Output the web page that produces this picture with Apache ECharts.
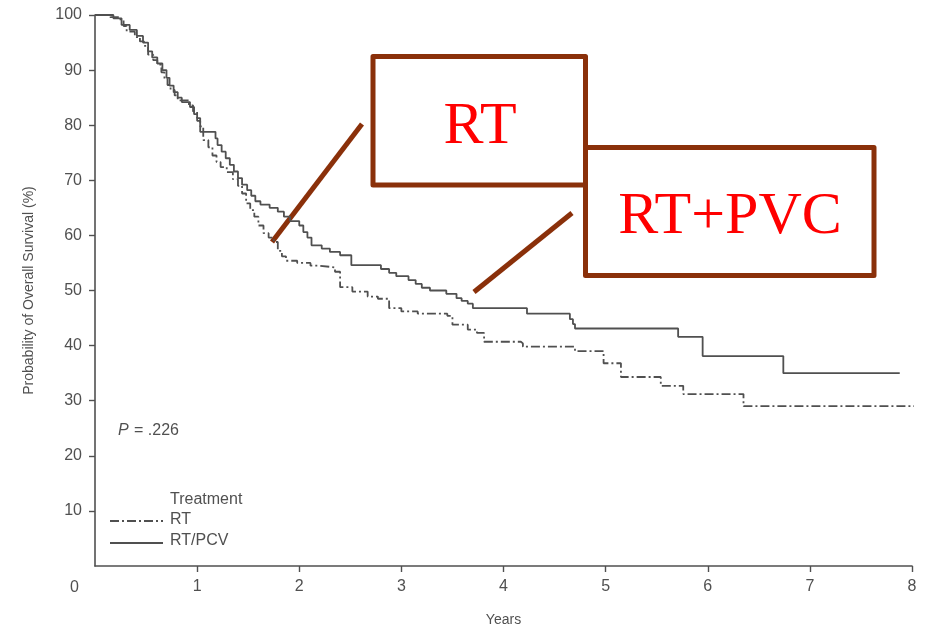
<!DOCTYPE html>
<html>
<head>
<meta charset="utf-8">
<title>Overall survival by treatment</title>
<script src="https://cdn.jsdelivr.net/npm/echarts@6/dist/echarts.min.js"></script>
<style>
  html, body { margin: 0; padding: 0; background: #ffffff; }
  #chart { width: 942px; height: 629px; }
</style>
</head>
<body>
<div id="chart"></div>
<script>
// Kaplan-Meier step data: time of each event (years) and survival level (%) from that time on.
const yearsRT = [0.00, 0.15, 0.24, 0.28, 0.31, 0.39, 0.44, 0.48, 0.52, 0.57,
  0.61, 0.65, 0.68, 0.71, 0.74, 0.78, 0.81, 0.92, 0.96, 1.00,
  1.03, 1.06, 1.11, 1.15, 1.19, 1.23, 1.29, 1.35, 1.40, 1.44,
  1.48, 1.52, 1.56, 1.60, 1.65, 1.70, 1.75, 1.79, 1.83, 1.87,
  1.98, 2.11, 2.20, 2.35, 2.40, 2.52, 2.67, 2.77, 2.88, 3.00,
  3.16, 3.45, 3.50, 3.65, 3.74, 3.81, 4.17, 4.19, 4.70, 4.98,
  5.15, 5.54, 5.76, 6.35, 8.03];
const survRT = [100, 99.6, 99.2, 98.0, 97.0, 96.0, 95.2, 94.4, 92.8, 91.8,
  91.0, 89.6, 88.4, 87.3, 86.4, 85.4, 84.5, 83.6, 82.5, 81.3,
  79.8, 77.3, 76.0, 74.5, 73.3, 72.4, 71.5, 70.2, 69.0, 67.6,
  65.8, 64.6, 63.4, 61.8, 60.4, 59.6, 58.8, 57.2, 56.2, 55.4,
  55.0, 54.5, 54.2, 53.4, 50.6, 49.8, 48.9, 48.5, 46.8, 46.2,
  45.8, 45.4, 43.8, 42.9, 42.3, 40.7, 40.4, 39.8, 39.0, 36.8,
  34.3, 32.7, 31.2, 29.0, 29.0];

const yearsPCV = [0.00, 0.18, 0.26, 0.34, 0.41, 0.47, 0.52, 0.56, 0.61, 0.66,
  0.70, 0.73, 0.77, 0.81, 0.85, 0.93, 0.97, 1.00, 1.03, 1.18,
  1.20, 1.24, 1.28, 1.32, 1.36, 1.40, 1.44, 1.49, 1.53, 1.57,
  1.62, 1.71, 1.79, 1.85, 1.91, 2.00, 2.04, 2.08, 2.12, 2.22,
  2.30, 2.40, 2.51, 2.80, 2.88, 2.95, 3.07, 3.14, 3.20, 3.28,
  3.44, 3.54, 3.59, 3.65, 3.70, 4.23, 4.65, 4.68, 4.70, 5.71,
  5.95, 6.74, 7.88];
const survPCV = [100, 99.4, 98.2, 97.3, 96.2, 95.0, 93.4, 92.3, 91.2, 90.0,
  88.6, 87.2, 86.0, 85.0, 84.2, 83.3, 82.0, 80.8, 78.8, 77.6,
  76.4, 75.2, 74.0, 72.8, 71.6, 70.4, 69.2, 68.2, 67.2, 66.2,
  65.6, 65.0, 64.3, 63.4, 62.6, 61.8, 60.6, 59.6, 58.2, 57.6,
  57.0, 56.4, 54.6, 53.9, 53.2, 52.6, 51.9, 51.2, 50.5, 50.0,
  49.4, 48.6, 48.1, 47.6, 46.8, 45.8, 44.8, 43.9, 43.1, 41.6,
  38.1, 35.0, 35.0];

const xTicks = [1, 2, 3, 4, 5, 6, 7, 8];
const yTicks = [10, 20, 30, 40, 50, 60, 70, 80, 90, 100];
const seriesNames = ['RT', 'RT/PCV'];
const legendTitle = 'Treatment';
const pValueText = '= .226';
const calloutLabels = ['RT', 'RT+PVC'];

const ink = '#505050';
const brown = '#8a300a';
const dashDot = [9, 3, 2, 3];
const font = 'Liberation Sans, Arial, sans-serif';

const zip = (xs, ys) => xs.map((x, i) => [x, ys[i]]);

const chart = echarts.init(document.getElementById('chart'), null, { renderer: 'canvas' });

chart.setOption({
  backgroundColor: '#ffffff',
  animation: false,
  grid: { left: 95, right: 30, top: 15, bottom: 63, containLabel: false, outerBoundsMode: 'none' },
  xAxis: {
    type: 'value', min: 0, max: 8, interval: 1,
    name: 'Years', nameLocation: 'middle', nameGap: 47,
    nameTextStyle: { color: ink, fontSize: 14, fontFamily: font },
    axisLine: { show: true, lineStyle: { color: ink, width: 1.6 } },
    axisTick: { show: true, length: 6, customValues: xTicks, lineStyle: { color: ink, width: 1.4 } },
    axisLabel: { customValues: xTicks, margin: 13, color: ink, fontSize: 16, fontFamily: font },
    splitLine: { show: false }
  },
  yAxis: {
    type: 'value', min: 0, max: 100, interval: 10,
    name: 'Probability of Overall Survival (%)', nameLocation: 'middle', nameGap: 59,
    nameTextStyle: { color: ink, fontSize: 14, fontFamily: font },
    axisLine: { show: true, lineStyle: { color: ink, width: 1.6 } },
    axisTick: { show: true, length: 6, customValues: yTicks, lineStyle: { color: ink, width: 1.4 } },
    axisLabel: { customValues: yTicks, margin: 13, color: ink, fontSize: 16, fontFamily: font },
    splitLine: { show: false }
  },
  series: [
    {
      name: seriesNames[0], type: 'line', step: 'end', symbol: 'none', clip: false,
      data: zip(yearsRT, survRT),
      lineStyle: { color: ink, width: 1.8, type: dashDot }
    },
    {
      name: seriesNames[1], type: 'line', step: 'end', symbol: 'none', clip: false,
      data: zip(yearsPCV, survPCV),
      lineStyle: { color: ink, width: 1.8, type: 'solid' }
    }
  ],
  graphic: [
    // origin label shared by both axes
    { type: 'text', left: 70, top: 580, style: { text: '0', fill: ink, font: '16px ' + font } },
    // log-rank p value
    { type: 'text', left: 118, top: 423, style: { text: 'P', fill: ink, font: 'italic 16px ' + font } },
    { type: 'text', left: 134, top: 423, style: { text: pValueText, fill: ink, font: '16px ' + font } },
    // legend
    { type: 'text', left: 170, top: 492, style: { text: legendTitle, fill: ink, font: '16px ' + font } },
    { type: 'line', shape: { x1: 110, y1: 521, x2: 163, y2: 521 }, style: { stroke: ink, lineWidth: 1.8, lineDash: dashDot } },
    { type: 'text', left: 170, top: 512, style: { text: seriesNames[0], fill: ink, font: '16px ' + font } },
    { type: 'line', shape: { x1: 110, y1: 543, x2: 163, y2: 543 }, style: { stroke: ink, lineWidth: 1.8 } },
    { type: 'text', left: 170, top: 533, style: { text: seriesNames[1], fill: ink, font: '16px ' + font } },
    // callouts
    { type: 'line', shape: { x1: 272, y1: 242, x2: 362, y2: 124 }, style: { stroke: brown, lineWidth: 5 } },
    { type: 'line', shape: { x1: 474, y1: 292, x2: 572, y2: 213 }, style: { stroke: brown, lineWidth: 5 } },
    { type: 'rect', shape: { x: 373, y: 56.5, width: 212.5, height: 128.5 },
      style: { fill: '#ffffff', stroke: brown, lineWidth: 5, lineJoin: 'round' } },
    { type: 'rect', shape: { x: 585.5, y: 147.5, width: 288.5, height: 128 },
      style: { fill: '#ffffff', stroke: brown, lineWidth: 5, lineJoin: 'round' } },
    { type: 'text', x: 480, y: 127, style: { text: calloutLabels[0], fill: '#ff0000', font: '60px Liberation Serif, serif', align: 'center', verticalAlign: 'middle' } },
    { type: 'text', x: 730, y: 217, style: { text: calloutLabels[1], fill: '#ff0000', font: '60px Liberation Serif, serif', align: 'center', verticalAlign: 'middle' } }
  ]
});
</script>
</body>
</html>
